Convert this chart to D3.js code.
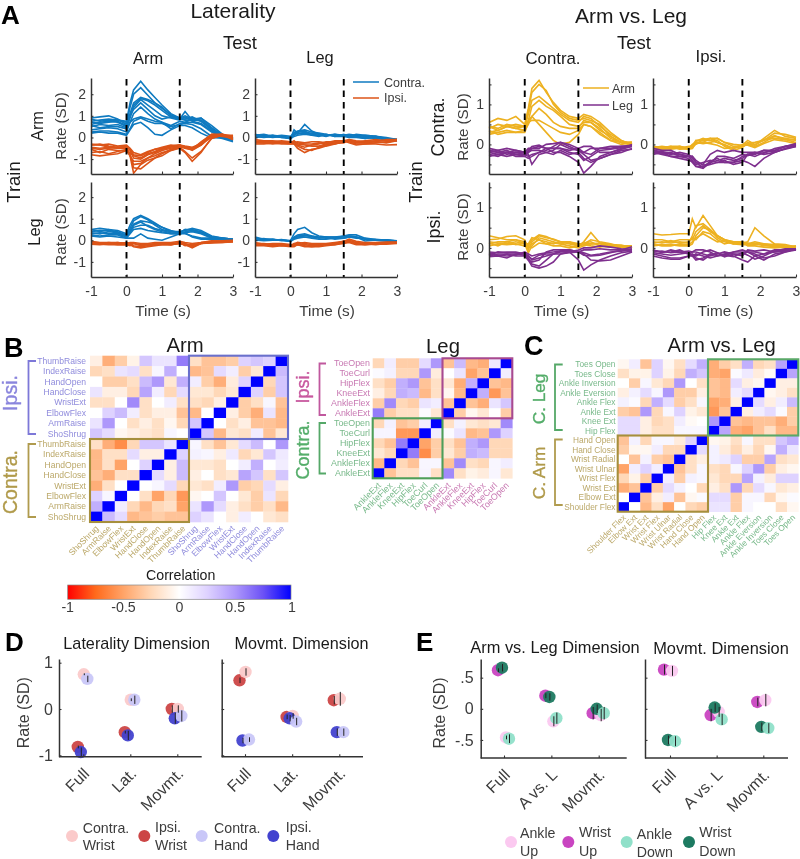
<!DOCTYPE html>
<html><head><meta charset="utf-8">
<script src="https://cdn.jsdelivr.net/npm/d3@7/dist/d3.min.js"></script>
<style>html,body{margin:0;background:#fff}svg{display:block;filter:blur(.55px);font-family:"Liberation Sans",Arial,sans-serif}</style>
</head><body><svg id="c" width="800" height="859"></svg>
<script>
// ---------- time-course data ----------
const time=[-1,-.75,-.5,-.25,0,.1,.2,.4,.6,.8,1,1.25,1.5,1.65,1.85,2.1,2.4,2.7,3];
const latArmArmContra=[
[.75,.8,.85,.8,.75,1.6,2.2,2.6,2.2,1.85,1.5,1.1,.9,1.0,.85,.75,.35,0,-.15],
[.9,.95,1.0,.85,.6,1.4,2.0,2.3,1.95,1.6,1.35,1.05,.85,1.2,.8,.8,.4,.05,-.1],
[.6,.7,.75,.7,.5,1.1,1.6,1.85,1.75,1.6,1.4,1.0,.9,.9,.85,.9,.45,.1,-.05],
[.7,.65,.7,.75,.55,1.0,1.5,1.8,1.7,1.5,1.25,.95,.85,.85,.95,.75,.4,.1,0],
[.5,.6,.55,.6,.45,.9,1.4,1.75,1.5,1.25,1.0,.9,.8,.95,.75,.65,.3,.05,-.1],
[.85,.75,.8,.8,.7,1.0,1.3,1.6,1.3,1.0,.85,.95,.85,.8,.8,.9,.55,.15,-.05],
[.35,.4,.45,.4,.25,.7,1.1,1.4,1.1,.85,.7,.55,.75,.7,.7,.6,.25,0,-.1],
[.25,.3,.3,.25,.15,.4,.75,.9,.75,.65,.65,.5,.6,.65,.6,.4,.05,-.05,-.2],
[.2,.25,.2,.2,.1,.35,.6,.7,.45,.15,.1,.35,.55,.55,.45,.2,-.02,0,0],
[.55,.45,.5,.5,.4,.7,.85,.95,.85,.75,.7,.4,.65,.7,.85,.8,.4,.1,-.05]];
const latArmArmIpsi=[
[-.35,-.35,-.45,-.5,-.45,-.85,-1.65,-1.25,-1.05,-.95,-.85,-.6,-.45,-.45,-.6,-.35,.1,.05,0],
[-.45,-.5,-.45,-.5,-.5,-.8,-1.4,-1.45,-1.2,-.95,-.75,-.55,-.45,-.65,-.95,-.65,-.05,.1,.05],
[-.7,-.65,-.75,-.65,-.55,-.8,-1.25,-1.2,-.95,-.85,-.7,-.6,-.5,-.7,-1.1,-.7,0,.1,0],
[-.55,-.7,-.55,-.6,-.6,-.85,-1.1,-1.1,-.95,-.75,-.6,-.5,-.4,-.5,-.55,-.35,.05,.1,-.1],
[-.35,-.3,-.4,-.45,-.4,-.6,-.95,-1,-.8,-.7,-.55,-.45,-.35,-.45,-.5,-.3,.1,.15,.05],
[-.8,-.85,-.8,-.75,-.6,-.7,-.85,-.95,-.75,-.65,-.5,-.4,-.35,-.45,-.5,-.25,.15,.1,.1],
[-.5,-.55,-.5,-.45,-.45,-.55,-.8,-.85,-.7,-.55,-.5,-.4,-.35,-.4,-.45,-.3,.05,.15,-.05],
[-.3,-.35,-.3,-.4,-.35,-.5,-.7,-.8,-.65,-.55,-.45,-.35,-.4,-.5,-.55,-.2,.15,.15,-.1]];
const latArmLegContra=[
[.1,.1,.05,0,-.05,.35,.2,.6,.3,.15,.1,.1,.1,.1,.05,-.05,0,-.05,-.1],
[.15,.05,.1,.05,0,.2,.3,.35,.25,.2,.15,.05,.15,.05,.05,.1,.05,-.1,-.15],
[0,.05,0,.05,-.05,.1,.25,.3,.15,.1,.05,.15,.1,.15,.1,.05,0,-.05,-.1],
[.1,.05,.1,0,0,.15,.2,.2,.2,.15,.1,.15,.05,0,0,-.05,.05,0,-.1],
[.05,0,.05,.05,-.05,.05,.1,.15,.1,.05,.15,.05,.05,.1,.05,0,-.05,-.1,-.15],
[.1,.15,.05,.1,.05,.2,.15,.25,.1,.1,.1,.1,.1,.05,.15,.1,.05,-.05,-.1]];
const latArmLegIpsi=[
[-.2,-.2,-.25,-.25,-.3,-.3,-.5,-.7,-.55,-.5,-.4,-.3,-.2,-.15,-.25,-.25,-.2,-.25,-.15],
[-.15,-.2,-.2,-.2,-.25,-.2,-.4,-.55,-.6,-.45,-.35,-.25,-.25,-.1,-.15,-.2,-.15,-.15,-.1],
[-.25,-.25,-.3,-.25,-.25,-.15,-.3,-.35,-.4,-.4,-.3,-.3,-.2,-.2,-.3,-.3,-.3,-.35,-.33],
[-.1,-.15,-.15,-.2,-.2,-.2,-.25,-.3,-.3,-.25,-.3,-.2,-.15,-.1,-.2,-.2,-.2,-.1,-.1],
[-.3,-.3,-.25,-.3,-.3,-.25,-.2,-.25,-.2,-.2,-.25,-.15,-.15,-.25,-.35,-.3,-.25,-.2,-.15],
[-.2,-.25,-.2,-.15,-.2,-.3,-.35,-.45,-.35,-.3,-.2,-.2,-.15,-.15,-.2,-.15,-.1,-.15,-.1]];
const latLegArmContra=[
[.5,.55,.5,.45,.3,.7,1.0,1.15,1.0,.8,.6,.45,.35,.5,.5,.4,.15,.1,.05],
[.4,.45,.45,.4,.25,.55,.9,1.1,.95,.7,.5,.4,.4,.45,.55,.45,.2,.1,.05],
[.5,.4,.5,.35,.2,.45,.75,.9,.85,.75,.6,.4,.35,.5,.45,.35,.15,.05,0],
[.3,.35,.3,.3,.15,.35,.7,.85,.65,.5,.4,.3,.3,.35,.4,.3,.1,.08,.05],
[.25,.2,.25,.25,.1,.3,.5,.55,.45,.4,.35,.3,.3,.3,.2,.1,.1,.05,.03],
[.2,.15,.2,.15,.1,.1,.1,.3,.1,.05,0,.15,.3,.35,.15,.05,.05,.05,.02],
[.35,.3,.4,.35,.2,.4,.6,.7,.7,.55,.45,.35,.3,.4,.45,.35,.15,.1,.05]];
const latLegArmIpsi=[
[-.1,-.12,-.15,-.1,-.15,-.2,-.3,-.35,-.3,-.25,-.2,-.2,-.15,-.2,-.35,-.15,-.1,-.05,-.05],
[-.05,-.1,-.1,-.15,-.1,-.15,-.15,-.2,-.2,-.15,-.15,-.15,-.1,-.15,-.25,-.1,-.05,-.02,0],
[-.15,-.18,-.2,-.2,-.2,-.2,-.25,-.3,-.25,-.2,-.2,-.2,-.15,-.2,-.3,-.15,-.1,-.1,-.05],
[-.1,-.15,-.1,-.1,-.15,-.1,-.1,-.15,-.15,-.1,-.1,-.1,-.05,-.1,-.15,-.1,-.02,-.03,-.02],
[-.18,-.2,-.15,-.2,-.2,-.25,-.15,-.25,-.2,-.2,-.15,-.2,-.12,-.25,-.2,-.15,-.12,-.1,-.08]];
const latLegLegContra=[
[.15,.05,.05,0,-.02,.3,.5,.6,.35,.2,.15,.15,.15,.2,.15,.05,0,-.02,-.05],
[.05,.08,0,.02,-.05,.15,.25,.3,.2,.15,.15,.15,.2,.25,.25,.1,.03,.02,-.03],
[0,.02,.03,0,-.02,.1,.2,.25,.15,.12,.1,.1,.2,.2,.15,.05,.05,0,-.05],
[.08,.03,.05,-.02,0,.1,.15,.2,.2,.1,.15,.05,.1,.15,.1,.08,0,-.03,-.06],
[.02,-.02,0,.03,-.05,.05,.1,.15,.1,.05,.05,.1,.1,.15,.15,-.03,.02,.02,-.02]];
const latLegLegIpsi=[
[-.2,-.2,-.25,-.2,-.25,-.2,-.1,-.15,-.2,-.2,-.2,-.15,-.05,0,-.1,-.15,-.2,-.15,-.12],
[-.15,-.15,-.2,-.25,-.25,-.15,-.12,-.25,-.3,-.25,-.2,-.2,-.1,-.05,-.15,-.2,-.15,-.1,-.1],
[-.25,-.25,-.3,-.25,-.3,-.3,-.2,-.3,-.3,-.3,-.25,-.2,-.15,-.1,-.2,-.2,-.18,-.18,-.15],
[-.1,-.18,-.15,-.15,-.2,-.25,-.15,-.1,-.15,-.15,-.15,-.1,-.05,.05,-.05,-.1,-.1,-.08,-.08],
[-.2,-.22,-.2,-.2,-.22,-.25,-.22,-.2,-.25,-.22,-.18,-.15,-.1,-.08,-.12,-.18,-.12,-.12,-.1]];
const avlCCArm=[
[.55,.65,.6,.7,.5,.9,1.4,1.6,1.3,1.05,.85,.7,.65,.75,.7,.55,.3,.1,0],
[.4,.5,.45,.5,.45,.85,1.3,1.5,1.35,1.0,.8,.65,.6,.65,.6,.5,.2,.05,.05],
[.45,.4,.5,.45,.45,.75,1.1,1.2,1.05,.9,.75,.6,.55,.7,.65,.45,.25,.1,0],
[.3,.35,.45,.4,.35,.6,.95,1.1,.95,.85,.7,.5,.45,.55,.55,.4,.15,.05,-.02],
[.25,.3,.35,.3,.35,.5,.7,.9,.75,.55,.45,.4,.4,.6,.55,.35,.2,.05,0],
[.35,.25,.3,.3,.3,.55,.6,.6,.5,.4,.3,.25,.35,.5,.45,.25,.1,0,.05],
[.45,.35,.45,.4,.45,.6,.7,.5,.3,.1,0,.05,.25,.5,.45,.3,.1,.05,.05]];
const avlCCLeg=[
[-.15,-.2,-.15,-.25,-.25,-.15,-.05,-.02,-.1,-.2,-.2,-.3,-.45,-.72,-.55,-.3,-.2,-.12,-.05],
[-.2,-.25,-.2,-.2,-.2,-.25,-.5,-.25,-.2,-.15,0,-.1,-.15,-.25,-.4,-.35,-.25,-.2,-.1],
[-.1,-.15,-.1,-.15,-.2,-.1,-.1,-.1,0,.02,.05,0,-.1,-.05,-.05,-.2,-.2,-.1,0],
[-.25,-.3,-.2,-.3,-.3,-.35,-.3,-.2,-.1,-.1,-.1,-.15,-.1,-.2,-.1,-.1,-.05,-.05,-.02],
[-.2,-.15,-.25,-.2,-.25,-.3,-.25,-.2,-.15,-.05,.05,-.05,-.15,-.2,-.25,-.1,-.1,-.05,-.05],
[-.3,-.25,-.3,-.25,-.3,-.2,-.15,-.15,-.2,-.25,-.15,-.25,-.2,-.35,-.45,-.35,-.25,-.15,-.12],
[-.15,-.2,-.2,-.15,-.2,-.2,-.1,-.05,-.1,-.1,-.1,-.2,-.25,-.4,-.3,-.15,-.12,-.08,-.03]];
const avlCIArm=[
[-.05,-.1,-.05,-.05,-.1,0,.05,.05,.15,.15,.05,-.05,-.05,.02,-.02,.15,.35,.2,.15],
[-.08,-.05,-.08,-.1,-.05,-.05,.1,.1,.1,.15,.05,0,-.02,.1,0,.1,.28,.25,.18],
[-.1,-.12,-.1,-.05,-.12,-.05,0,.12,.15,.05,0,-.1,-.05,0,-.05,.05,.2,.15,.1],
[-.12,-.08,-.05,-.12,-.1,-.1,.05,.02,.05,.1,-.05,-.15,-.08,.05,-.02,.12,.15,.12,.05],
[-.05,-.1,-.12,-.08,-.08,-.02,.08,.15,.1,.05,-.02,-.1,0,.03,.05,.1,.22,.12,.12],
[-.1,-.07,-.1,-.1,-.12,-.1,.02,.05,.02,-.02,-.1,-.08,-.02,-.02,-.08,.02,.12,.08,.02]];
const avlCILeg=[
[-.15,-.22,-.2,-.3,-.3,-.4,-.55,-.6,-.45,-.4,-.35,-.4,-.35,-.25,-.3,-.2,-.15,-.05,.02],
[-.2,-.25,-.3,-.3,-.35,-.45,-.55,-.55,-.5,-.45,-.45,-.45,-.3,-.25,-.25,-.15,-.15,-.05,-.02],
[-.2,-.2,-.25,-.2,-.25,-.35,-.45,-.58,-.42,-.35,-.45,-.45,-.4,-.45,-.55,-.35,-.2,-.1,-.05],
[-.1,-.15,-.15,-.25,-.3,-.3,-.45,-.5,-.25,-.15,-.2,-.15,-.2,-.2,-.2,-.25,-.2,-.1,-.02],
[-.25,-.2,-.3,-.35,-.4,-.42,-.5,-.45,-.4,-.45,-.4,-.5,-.45,-.25,-.2,-.22,-.1,-.05,0],
[-.15,-.18,-.22,-.25,-.3,-.3,-.4,-.52,-.48,-.3,-.3,-.35,-.25,-.28,-.22,-.15,-.18,-.12,-.05]];
const avlICArm=[
[.3,.25,.2,.2,.15,.05,.2,.32,.28,.2,.15,.12,.1,.1,.1,.12,.05,.05,.03],
[.2,.22,.28,.3,.2,-.05,.15,.3,.25,.22,.15,.15,.05,.15,.38,.12,.08,.03,.05],
[.1,.15,.15,.2,.1,-.12,.05,.25,.2,.15,.1,.05,0,.05,.1,.1,.05,0,.02],
[.05,.1,.08,.1,.05,0,.1,.2,.15,.1,.15,.1,.05,.12,.15,.05,.02,.05,.05],
[.15,.12,.1,.15,.1,.1,.25,.2,.1,.05,.05,0,.05,.08,.05,.02,.08,.07,0],
[.12,.05,.15,.08,.12,.05,0,.12,.1,.12,.1,.15,.1,.1,.2,.15,.1,.02,.03]];
const avlICLeg=[
[-.2,-.15,-.15,-.15,-.12,-.2,-.3,-.25,-.2,-.15,-.1,-.1,-.3,-.55,-.42,-.3,-.2,-.12,-.08],
[-.15,-.2,-.15,-.2,-.2,-.3,-.45,-.5,-.45,-.35,-.15,-.1,-.05,0,0,.05,.02,-.02,-.05],
[-.1,-.12,-.1,-.1,-.15,-.25,-.4,-.45,-.3,-.15,-.08,-.05,-.1,-.15,-.3,-.32,-.3,-.2,-.1],
[-.22,-.2,-.25,-.15,-.18,-.3,-.35,-.3,-.1,-.05,-.05,-.05,-.1,-.05,-.05,-.02,-.05,-.05,.03],
[-.12,-.18,-.2,-.18,-.1,-.15,-.2,-.15,-.12,-.1,-.08,-.1,-.08,-.12,-.18,-.15,-.1,-.08,-.05],
[-.18,-.1,-.12,-.12,-.15,-.2,-.28,-.18,-.15,-.15,-.15,-.12,-.1,-.18,-.2,-.18,-.12,-.05,-.02]];
const avlIIArm=[
[.35,.32,.33,.35,.35,.72,.5,.8,.55,.3,.2,.15,.12,.15,.5,.3,.1,.08,.02],
[.12,.15,.12,.15,.12,.3,.55,.6,.45,.3,.2,.12,.1,.1,.15,.1,.08,.05,.03],
[.2,.2,.15,.2,.2,.2,.4,.55,.4,.3,.2,.15,.15,.1,.1,.08,.02,.03,.02],
[.05,.08,.08,.05,.05,.1,.3,.5,.45,.25,.15,.1,.15,.05,.05,.02,0,.02,.05],
[.15,.12,.18,.12,.15,.25,.2,.4,.35,.2,.1,.15,.1,.12,.08,.1,.05,0,0],
[.1,.05,.05,.1,.08,.15,.25,.35,.25,.15,.18,.1,.08,.08,.12,.05,.06,.04,.03]];
const avlIILeg=[
[-.05,-.1,-.1,-.05,-.15,-.1,-.05,-.05,-.1,-.2,-.15,-.1,-.05,-.1,-.2,-.15,-.05,-.05,-.05],
[-.15,-.2,-.25,-.25,-.2,-.2,-.15,-.2,-.25,-.2,-.15,-.2,-.3,-.35,-.2,-.3,-.15,-.1,-.05],
[-.1,-.08,-.12,-.1,-.15,-.2,-.3,-.25,-.15,-.18,-.2,-.1,-.1,-.1,-.15,-.25,-.2,-.1,-.02],
[-.2,-.25,-.28,-.28,-.2,-.15,-.2,-.1,-.05,-.12,-.22,-.15,-.15,-.1,-.1,-.15,-.1,-.05,-.02],
[-.05,-.12,-.05,-.1,-.08,-.1,-.1,-.15,-.2,-.15,-.1,-.15,-.2,-.05,-.08,-.05,-.1,-.08,-.03],
[-.12,-.15,-.18,-.15,-.12,-.18,-.25,-.3,-.18,-.12,-.18,-.22,-.12,-.18,-.28,-.2,-.08,-.02,-.02]];
const eventTimes=[0,1.5];
const timeTicks=[-1,0,1,2,3];

// ---------- correlation matrices (rows top to bottom, columns left to right) ----------
const armLabelsTop=["ThumbRaise","IndexRaise","HandOpen","HandClose","WristExt","ElbowFlex","ArmRaise","ShoShrug"];
const legLabelsTop=["ToeOpen","ToeCurl","HipFlex","KneeExt","AnkleFlex","AnkleExt"];
const avlLegLabels=["Toes Open","Toes Close","Ankle Inversion","Ankle Eversion","Ankle Flex","Ankle Ext","Knee Ext","Hip Flex"];
const avlArmLabels=["Hand Open","Hand Close","Wrist Radial","Wrist Ulnar","Wrist Flex","Wrist Ext","Elbow Ext","Shoulder Flex"];
const corrArm=[
[-.1,-.45,-.3,-.08,.3,.15,.15,.6,-.2,-.35,-.35,-.3,.25,.3,.25,1],
[-.25,-.2,.15,.2,-.2,.05,.4,0,-.4,-.35,.2,.1,-.3,-.15,1,.35],
[0,-.3,-.3,-.2,.35,.5,-.15,.4,.1,-.3,-.45,-.12,.25,1,-.25,.3],
[.15,-.1,-.1,-.25,.45,.1,-.25,.2,-.15,-.15,-.25,-.15,1,.25,-.3,.3],
[-.2,-.2,0,.55,-.2,0,.1,-.2,-.2,-.25,-.1,1,-.3,-.2,.05,-.35],
[0,.25,.35,.1,-.2,-.1,-.1,-.35,-.4,0,1,-.1,-.3,-.45,.15,-.4],
[.15,.5,0,-.2,-.1,-.2,-.05,-.25,.3,1,0,-.2,-.1,-.35,-.35,-.4],
[.3,.2,-.05,-.1,-.15,-.2,.05,0,1,.3,-.4,-.15,-.2,.1,-.35,-.15],
[-.2,-.45,-.6,-.25,.3,.3,.15,1,.05,-.2,-.35,-.15,.2,.35,0,.5],
[-.4,-.2,-.2,.2,-.1,-.1,1,.25,.08,.05,-.1,.12,-.25,-.15,.3,.12],
[-.4,-.2,-.5,0,.25,1,-.1,.35,-.15,-.15,-.2,0,.1,.4,0,.1],
[-.35,-.45,-.2,-.2,1,.2,-.1,.35,-.1,0,-.2,-.15,.45,.3,-.2,.3],
[-.45,-.2,0,1,0,.05,.2,-.25,-.15,-.2,.1,.5,-.3,-.25,.2,-.1],
[.25,.05,1,0,-.2,-.5,-.25,-.55,-.05,0,.3,0,-.15,-.3,.15,-.25],
[.4,1,.1,-.25,-.4,-.25,-.2,-.5,.15,.5,.2,-.1,-.2,-.3,-.2,-.4],
[1,.35,.2,-.4,-.35,-.3,-.35,-.35,.25,.15,0,-.1,.1,0,-.15,-.2]];
const corrLeg=[
[-.25,.1,-.3,-.3,.2,.5,-.35,.35,-.4,-.45,.12,1],
[.03,.08,-.25,-.25,.5,-.12,0,.15,-.5,-.35,1,.1],
[-.2,-.3,.4,.5,-.35,-.2,-.15,-.45,.4,1,-.35,-.4],
[-.1,-.25,.4,.35,-.4,-.2,-.05,-.4,1,.4,-.55,-.35],
[-.3,.55,-.25,-.3,.15,.1,-.35,1,-.35,-.45,.15,.3],
[.6,-.3,-.2,-.2,.03,-.15,1,-.3,-.05,-.15,0,-.3],
[-.25,.08,-.35,-.3,.1,1,-.2,.08,-.15,-.2,-.15,.55],
[.06,.06,-.55,-.55,1,.1,.03,.15,-.4,-.35,.5,.25],
[-.25,-.35,.6,1,-.5,-.3,-.2,-.35,.4,.5,-.25,-.25],
[-.15,-.25,1,.6,-.6,-.3,-.15,-.3,.4,.35,-.25,-.25],
[-.4,1,-.25,-.35,.05,.05,-.35,.55,-.2,-.25,.05,.1],
[1,-.35,-.2,-.2,.06,-.2,.55,-.2,-.08,-.12,.05,-.15]];
const corrAvl=[
[-.05,.1,-.35,.25,-.05,-.2,.2,.4,-.45,-.3,-.2,.4,-.25,-.2,.45,1],
[-.2,-.08,-.08,.25,-.08,-.25,.4,.3,-.45,-.5,.03,.12,-.12,-.03,1,.45],
[0,-.3,.05,-.15,-.25,.5,0,-.2,-.35,-.4,.2,-.1,-.05,1,-.1,-.1],
[-.1,.08,.2,.05,.5,-.3,-.3,-.1,-.35,-.4,.1,.2,1,-.05,-.1,-.2],
[.08,.03,-.25,.4,.2,-.3,-.2,.05,-.5,-.45,-.1,1,.2,-.1,.1,.35],
[-.3,-.35,.5,-.25,.05,.25,-.08,-.15,-.55,-.35,1,-.1,.1,.2,.03,-.3],
[.2,.2,-.1,-.25,-.2,.1,-.03,0,.5,1,-.35,-.4,-.35,-.35,-.45,-.3],
[.2,.2,-.1,-.2,-.2,.05,.05,.05,1,.45,-.45,-.5,-.35,-.2,-.4,-.4],
[-.35,.08,-.25,.05,.05,-.12,.25,1,-.05,-.08,-.2,.05,-.2,-.2,.3,.4],
[-.3,-.05,-.05,.1,-.25,-.25,1,.2,.08,-.12,-.25,-.1,-.25,-.05,.4,.15],
[0,-.35,.08,-.3,-.35,1,-.2,-.1,.08,.12,.25,-.3,-.3,.45,-.2,-.15],
[-.5,.1,.25,.1,1,-.35,-.2,.05,-.2,-.25,.05,.25,.5,-.3,-.1,-.05],
[-.25,-.08,-.3,1,.1,-.3,.08,.05,-.15,-.25,-.25,.45,.08,-.12,.25,.25],
[-.45,-.35,1,-.3,.2,.08,0,-.25,-.1,-.2,.5,-.25,.2,.05,-.15,-.1],
[0,1,-.35,-.1,.1,-.35,-.05,.03,.2,.2,-.3,.05,.05,-.25,-.05,.03],
[1,0,-.4,-.2,-.5,0,-.25,-.3,.15,.15,-.3,.05,0,0,-.2,-.05]];
const corrStops=[-1,-.75,-.5,-.25,0,.25,.5,.75,1];
const corrColors=["#ff0000","#ff6a1c","#ffa468","#ffd8b8","#ffffff","#ded2ff","#ae98fb","#6c52f6","#0000ff"];
const corrTicks=[-1,-.5,0,.5,1];

// ---------- population responses (order: Full, dim, Movmt.) ----------
const dCats=["Full","Lat.","Movmt."];
const eCats=["Full","A vs. L","Movmt."];
const dNames=["Ipsi. Wrist","Contra. Wrist","Ipsi. Hand","Contra. Hand"];
const dFill=["#cc4646","#fbcaca","#4242cf","#c9c7f8"];
const dOffset=[-5.5,.5,-2.5,4];
const dLat=[[-.82,-.5,0],[.75,.2,0],[-.93,-.57,-.2],[.65,.2,-.15]];
const dLatErr=[[.03,.03,.08],[.02,.03,.08],[.1,.1,.12],[.07,.09,.12]];
const dMov=[[.62,-.17,.19],[.8,-.15,.22],[-.68,-.2,-.5],[-.66,-.27,-.5]];
const dMovErr=[[.06,.05,.09],[.08,.06,.15],[.06,.07,.08],[.05,.08,.08]];
const eNames=["Wrist Up","Ankle Up","Wrist Down","Ankle Down"];
const eFill=["#c945c1","#fbc9f0","#1d7a61","#90e0c9"];
const eOffset=[-6,2,-2,5];
const eAvl=[[.62,.21,-.07],[-.46,-.2,-.1],[.66,.19,0],[-.48,-.15,-.07]];
const eAvlErr=[[.03,.04,.1],[.03,.08,.1],[.06,.06,.07],[.07,.09,.1]];
const eMov=[[.63,-.1,.11],[.61,-.05,.14],[-.5,.02,-.29],[-.52,-.17,-.31]];
const eMovErr=[[.08,.1,.07],[.08,.08,.1],[.07,.07,.07],[.08,.09,.08]];

// ---------- helpers ----------
const svg=d3.select("#c");
const INK="#3c3c3c";
function T(str,x,y,size,o={}){
  const t=svg.append("text").attr("x",0).attr("y",0).text(str)
    .attr("font-size",size).attr("fill",o.fill||"#1a1a1a")
    .attr("text-anchor",o.anchor||"middle")
    .attr("transform",`translate(${x},${y}) rotate(${o.rot||0})`);
  if(o.weight)t.attr("font-weight",o.weight);
  if(o.stroke)t.attr("stroke",o.fill).attr("stroke-width",o.stroke);
  return t;
}
function styleAxis(g,fs){
  g.selectAll("path.domain").attr("stroke","#333").attr("stroke-width",1.5);
  g.selectAll(".tick line").attr("stroke","#333").attr("stroke-width",1.1);
  g.selectAll("text").attr("fill",INK).attr("font-size",fs).attr("font-family","inherit");
}
function tracePanel(b,yd,yTicks,yLabeled,groups,showX,labelEnd){
  const x=d3.scaleLinear().domain([-1,3]).range([b.l,b.r]);
  const y=d3.scaleLinear().domain(yd).range([b.b,b.t]);
  const line=d3.line().x((d,i)=>x(time[i])).y(d=>y(d));
  const g=svg.append("g");
  groups.forEach(gr=>g.append("g").selectAll("path").data(gr.rows).join("path")
    .attr("d",line).attr("fill","none").attr("stroke",gr.color).attr("stroke-width",1.6));
  g.selectAll("line.ev").data(eventTimes).join("line").attr("class","ev")
    .attr("x1",d=>x(d)).attr("x2",d=>x(d)).attr("y1",b.t+1).attr("y2",b.b)
    .attr("stroke","#000").attr("stroke-width",1.9).attr("stroke-dasharray","6.5 5");
  const ax=svg.append("g").attr("transform",`translate(${b.l},0)`)
    .call(d3.axisLeft(y).tickValues(yTicks).tickSizeInner(-2.5).tickSizeOuter(0).tickPadding(labelEnd)
    .tickFormat(d=>yLabeled.includes(d)?d3.format("d")(d).replace("−","-"):""));
  styleAxis(ax,14);
  const bx=svg.append("g").attr("transform",`translate(0,${b.b})`)
    .call(d3.axisBottom(x).tickValues(timeTicks).tickSizeInner(-2.5).tickSizeOuter(0).tickPadding(9.5)
    .tickFormat(d=>showX?d3.format("d")(d).replace("−","-"):""));
  styleAxis(bx,14);
  if(showX)T("Time (s)",(b.l+b.r)/2+1,316,15.3,{fill:INK});
}
function heat(b,matrix,colors){
  const n=matrix.length,idx=d3.range(n);
  const x=d3.scaleBand().domain(idx).range([b.l,b.r]);
  const y=d3.scaleBand().domain(idx).range([b.t,b.b]);
  const col=d3.scaleLinear().domain(corrStops).range(corrColors);
  const g=svg.append("g");
  matrix.forEach((row,r)=>g.append("g").selectAll("rect").data(row).join("rect")
    .attr("x",(d,c)=>x(c)).attr("y",y(r)).attr("width",x.bandwidth()+.3).attr("height",y.bandwidth()+.3)
    .attr("fill",d=>col(d)));
  return {x,y};
}
function frame(x,y,w,h,c){svg.append("rect").attr("x",x).attr("y",y).attr("width",w).attr("height",h).attr("fill","none").attr("stroke",c).attr("stroke-width",2.1);}
function bracket(x0,x1,y0,y1,c){svg.append("path").attr("d",d3.line()([[x1,y0],[x0,y0],[x0,y1],[x1,y1]])).attr("fill","none").attr("stroke",c).attr("stroke-width",1.8);}
function rowLabels(names,colors,s,xEnd,size){names.forEach((t,i)=>T(t,xEnd,s.y(i)+s.y.bandwidth()/2+3,size,{anchor:"end",fill:colors[i]}));}
function colLabels(names,colors,s,yTop,size){names.forEach((t,i)=>T(t,s.x(i)+s.x.bandwidth()/2+3,yTop,size,{anchor:"end",fill:colors[i],rot:-45}));}
function dotPanel(b,yd,yTicks,yFmt,cats,tickX,vals,errs,fill,offs,showY,yEnd){
  const y=d3.scaleLinear().domain(yd).range([b.b,b.t]);
  const x=d3.scalePoint().domain(cats).range(tickX);
  const g=svg.append("g");
  vals.forEach((row,s)=>g.append("g").selectAll("circle").data(row).join("circle")
    .attr("cx",(d,i)=>x(cats[i])+offs[s]).attr("cy",d=>y(d)).attr("r",6.2).attr("fill",fill[s]).attr("fill-opacity",.95));
  vals.forEach((row,s)=>g.append("g").selectAll("line").data(row).join("line")
    .attr("x1",(d,i)=>x(cats[i])+offs[s]+.5).attr("x2",(d,i)=>x(cats[i])+offs[s]+.5)
    .attr("y1",(d,i)=>y(d-errs[s][i])).attr("y2",(d,i)=>y(d+errs[s][i]))
    .attr("stroke","#222").attr("stroke-width",1));
  const ax=svg.append("g").attr("transform",`translate(${b.l},0)`)
    .call(d3.axisLeft(y).tickValues(yTicks).tickSizeInner(-2.5).tickSizeOuter(0).tickPadding(yEnd).tickFormat(d=>showY?yFmt(d):""));
  styleAxis(ax,16);
  const bx=svg.append("g").attr("transform",`translate(0,${b.b})`)
    .call(d3.axisBottom(x).tickSizeInner(-2.5).tickSizeOuter(0).tickFormat(""));
  styleAxis(bx,16);
  cats.forEach(c=>T(c,x(c)+7,b.b+18,16,{anchor:"end",rot:-45,fill:INK}));
  bx.select(".domain").attr("d",`M${b.l},0H${b.r}`);
}

// ---------- panel A ----------
T("A",1,24,26,{anchor:"start",weight:"bold",fill:"#000"});
T("Laterality",233,18,21);T("Test",240,49,18.5);T("Arm",148,64,16.4);T("Leg",320,63,16.4);
T("Train",20,182,18.5,{rot:-90});T("Arm",43,126,16.4,{rot:-90});T("Leg",40,232,16.4,{rot:-90});
T("Rate (SD)",66,126,15.2,{rot:-90,fill:INK});T("Rate (SD)",66,232,15.2,{rot:-90,fill:INK});
const BLUE="#0f7ac0",ORG="#dc5418",YEL="#edb120",PUR="#7e2f8e";
const latTicks=[-1,0,1,2];
const row1={t:78,b:174},row2={t:182,b:277};
tracePanel({l:91,r:233,...row1},[-1.69,2.75],latTicks,latTicks,[{rows:latArmArmContra,color:BLUE},{rows:latArmArmIpsi,color:ORG}],false,5);
tracePanel({l:255,r:397,...row1},[-1.69,2.75],latTicks,latTicks,[{rows:latArmLegContra,color:BLUE},{rows:latArmLegIpsi,color:ORG}],false,5);
tracePanel({l:91,r:233,...row2},[-1.7,2.7],latTicks,latTicks,[{rows:latLegArmContra,color:BLUE},{rows:latLegArmIpsi,color:ORG}],true,5);
tracePanel({l:255,r:397,...row2},[-1.7,2.7],latTicks,latTicks,[{rows:latLegLegContra,color:BLUE},{rows:latLegLegIpsi,color:ORG}],true,5);
T("Arm vs. Leg",631,23,21);T("Test",634,49,18.5);T("Contra.",553,64,16.8);T("Ipsi.",711,62,16.8);
T("Train",422,182,18.5,{rot:-90});T("Contra.",444,127,18,{rot:-90});T("Ipsi.",440,227,18,{rot:-90});
T("Rate (SD)",468,127,15.2,{rot:-90,fill:INK});T("Rate (SD)",468,227,15.2,{rot:-90,fill:INK});
const avTicks=[-.5,0,.5,1,1.5],avLab=[0,1];
tracePanel({l:489,r:632,...row1},[-.74,1.66],avTicks,avLab,[{rows:avlCCArm,color:YEL},{rows:avlCCLeg,color:PUR}],false,5);
tracePanel({l:653,r:796,...row1},[-.74,1.66],avTicks,avLab,[{rows:avlCIArm,color:YEL},{rows:avlCILeg,color:PUR}],false,5);
tracePanel({l:489,r:632,...row2},[-.72,1.63],avTicks,avLab,[{rows:avlICArm,color:YEL},{rows:avlICLeg,color:PUR}],true,5);
tracePanel({l:653,r:796,...row2},[-.72,1.63],avTicks,avLab,[{rows:avlIIArm,color:YEL},{rows:avlIILeg,color:PUR}],true,5);
[[353,379,82,BLUE,"Contra.",86.5,384],[353,379,98,ORG,"Ipsi.",102,384],[583,609,88,YEL,"Arm",92.5,612],[583,609,105,PUR,"Leg",110,612]].forEach(a=>{
  svg.append("line").attr("x1",a[0]).attr("x2",a[1]).attr("y1",a[2]).attr("y2",a[2]).attr("stroke",a[3]).attr("stroke-width",1.5);
  T(a[4],a[6],a[5],12.5,{anchor:"start",fill:INK});
});

// ---------- panel B ----------
const IPS="#8f8bdc",GOLD="#bba869",PINK="#c878b2",GRN="#78b98a";
T("B",4,357,27,{anchor:"start",weight:"bold",fill:"#000"});
T("Arm",185,352,20.3);
const sB=heat({l:90,r:288,t:355.7,b:522},corrArm);
rowLabels([...armLabelsTop,...armLabelsTop],[...Array(8).fill(IPS),...Array(8).fill(GOLD)],sB,86,8.6);
colLabels([...armLabelsTop].reverse().concat([...armLabelsTop].reverse()),[...Array(8).fill(GOLD),...Array(8).fill(IPS)],sB,529,8.6);
frame(90,439,99,83,"#a68f3c");frame(189,355.7,99,83.3,"#6a70cc");
bracket(28.5,36,361,434,"#7d78d8");bracket(28.5,36,444,517,"#b09b4e");
T("Ipsi.",17,393,19.5,{rot:-90,fill:"#8a85dd",stroke:.35});T("Contra.",17,482,19.5,{rot:-90,fill:"#b09a4a",stroke:.35});

T("Leg",443,353,20.3);
const sL=heat({l:372.7,r:512.3,t:358.3,b:478.3},corrLeg);
rowLabels([...legLabelsTop,...legLabelsTop],[...Array(6).fill(PINK),...Array(6).fill(GRN)],sL,370,8.9);
colLabels([...legLabelsTop].reverse().concat([...legLabelsTop].reverse()),[...Array(6).fill(GRN),...Array(6).fill(PINK)],sL,486,8.9);
frame(372.7,418.3,69.8,60,"#4e9e5a");frame(442.5,358.3,69.8,60,"#a84a90");
bracket(319.5,326,363.5,415,"#c0589e");bracket(319.5,326,423,473.5,"#55a868");
T("Ipsi.",309,387,18,{rot:-90,fill:"#c8589e",stroke:.35});T("Contra.",309,450,18,{rot:-90,fill:"#55ad6a",stroke:.35});

// colour bar
const cbx=d3.scaleLinear().domain([-1,1]).range([67.7,291]);
const cbCol=d3.scaleLinear().domain(corrStops).range(corrColors);
const grad=svg.append("defs").append("linearGradient").attr("id","cb");
grad.selectAll("stop").data(corrStops).join("stop").attr("offset",d=>(d+1)/2).attr("stop-color",d=>cbCol(d));
svg.append("rect").attr("x",cbx(-1)).attr("y",585).attr("width",cbx(1)-cbx(-1)).attr("height",14.3).attr("fill","url(#cb)").attr("stroke","#888").attr("stroke-width",.7);
T("Correlation",180.7,580,14.2);
corrTicks.forEach(v=>T(v===0?"0":(v<0?"-":"")+(Math.abs(v)===1?"1":"0.5"),cbx(v)+(v===1?1:0),611.5,14.2,{fill:INK}));

// ---------- panel C ----------
T("C",524,355,27,{anchor:"start",weight:"bold",fill:"#000"});
T("Arm vs. Leg",721.7,352,20.3);
const sC=heat({l:617.7,r:798.3,t:359.3,b:511.7},corrAvl);
rowLabels([...avlLegLabels,...avlArmLabels],[...Array(8).fill(GRN),...Array(8).fill(GOLD)],sC,615.5,8.3);
colLabels([...avlArmLabels].reverse().concat([...avlLegLabels].reverse()),[...Array(8).fill(GOLD),...Array(8).fill(GRN)],sC,518,8.3);
frame(617.7,435.5,90.3,76.2,"#a68f3c");frame(708,359.3,90.3,76.2,"#5aa868");
bracket(555,562.7,364.5,430,"#55a868");bracket(555,562.7,439.5,505,"#b09b4e");
T("C. Leg",545,399,17.2,{rot:-90,fill:"#55ad6a",stroke:.35});T("C. Arm",545,473,17.2,{rot:-90,fill:"#b09a4a",stroke:.35});

// ---------- panel D ----------
T("D",5,651,26,{anchor:"start",weight:"bold",fill:"#000"});
T("Laterality Dimension",136.7,649,16.2);T("Movmt. Dimension",301.5,649,16.2);
const dY=[-1.03,1.08],dT=[-1,0,1],fD=d=>d3.format("d")(d).replace("−","-");
dotPanel({l:59,r:201.7,t:659,b:756.7},dY,dT,fD,dCats,[83.3,177.3],dLat,dLatErr,dFill,dOffset,true,6);
dotPanel({l:221.7,r:363,t:659,b:756.7},dY,dT,fD,dCats,[245,339.3],dMov,dMovErr,dFill,dOffset,false,6);
T("Rate (SD)",29,712.7,16,{rot:-90,fill:INK});
const leg=(x,y,c)=>svg.append("circle").attr("cx",x).attr("cy",y).attr("r",6).attr("fill",c);
[[72,1,82.7,833,850],[144.3,0,155,832,850],[201.7,3,214,833,850],[273.3,2,285.7,832,850]].forEach(a=>{
  leg(a[0],836,dFill[a[1]]);
  const w=dNames[a[1]].split(" ");
  T(w[0],a[2],a[3],14.2,{anchor:"start",fill:INK});T(w[1],a[2],a[4],14.2,{anchor:"start",fill:INK});
});

// ---------- panel E ----------
T("E",416,651,26,{anchor:"start",weight:"bold",fill:"#000"});
T("Arm vs. Leg Dimension",555,652.7,16.4);T("Movmt. Dimension",721,654,16.4);
const eY=[-.79,.8],eT=[-.5,0,.5],fE=d=>d===0?"0":(d<0?"-":"")+".5";
dotPanel({l:480.7,r:626.7,t:659,b:758},eY,eT,fE,eCats,[504,598.7],eAvl,eAvlErr,eFill,eOffset,true,7);
dotPanel({l:645,r:788,t:659,b:758},eY,eT,fE,eCats,[670,763.3],eMov,eMovErr,eFill,eOffset,false,7);
T("Rate (SD)",445,713,16,{rot:-90,fill:INK});
[[511,1,520,838,856],[568.3,0,579,837,856],[626.7,3,636.7,839,857],[689,2,699.3,837,856]].forEach(a=>{
  leg(a[0],842,eFill[a[1]]);
  const w=eNames[a[1]].split(" ");
  T(w[0],a[2],a[3],14.2,{anchor:"start",fill:INK});T(w[1],a[2],a[4],14.2,{anchor:"start",fill:INK});
});
</script></body></html>
